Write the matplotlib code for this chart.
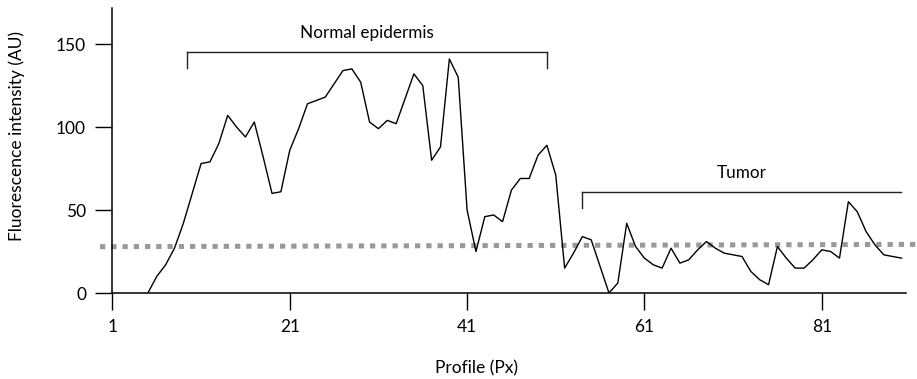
import numpy as np
import matplotlib
matplotlib.use("Agg")
import matplotlib.pyplot as plt

plt.rcParams['font.family'] = ['Lato', 'DejaVu Sans']

# profile position (px) and fluorescence intensity (AU)
profile_px = np.arange(5, 91)
intensity = [
    0, 10, 17, 27, 42, 60, 78, 79, 90, 107,      # 5-14
    100, 94, 103, 82, 60, 61, 86, 99, 114, 116,  # 15-24
    118, 126, 134, 135, 127, 103, 99, 104, 102, 117,  # 25-34
    132, 125, 80, 88, 141, 130, 50, 25, 46, 47,  # 35-44
    43, 62, 69, 69, 83, 89, 71, 15, 24, 34,      # 45-54
    32, 16, 0, 6, 42, 28, 21, 17, 15, 27,        # 55-64
    18, 20, 26, 31, 27, 24, 23, 22, 13, 8,       # 65-74
    5, 28, 21, 15, 15, 20, 26, 25, 21, 55,       # 75-84
    49, 37, 29, 23, 22, 21,                      # 85-90
]

# background threshold (dotted)
thresh_x = [-0.4, 91.9]
thresh_y = [27.9, 29.3]

xticks = [1, 21, 41, 61, 81]
yticks = [0, 50, 100, 150]

# region brackets: (label, x start, x end, y, left tick, right tick)
regions = [
    ("Normal epidermis", 9.4, 50.0, 145.2, True, True),
    ("Tumor", 54.0, 89.9, 60.8, True, False),
]

fig = plt.figure(figsize=(9.17, 3.79), dpi=100)
ax = fig.add_axes([0.1226, 0.2269, 0.9880 - 0.1226, 0.9789 - 0.2269])

ax.plot(thresh_x, thresh_y, color='#999999', lw=3.6, linestyle=(0, (1.05, 1.2)),
        solid_capstyle='butt', dash_capstyle='butt', clip_on=False, zorder=1)
ax.plot(profile_px, intensity, color='black', lw=1.0, zorder=2)

for label, x0, x1, y, lt, rt in regions:
    ax.plot([x0, x1], [y, y], color='#222222', lw=1.0, clip_on=False)
    if lt:
        ax.plot([x0, x0], [y, y - 9.7], color='#222222', lw=1.0, clip_on=False)
    if rt:
        ax.plot([x1, x1], [y, y - 9.7], color='#222222', lw=1.0, clip_on=False)
    ax.text((x0 + x1) / 2, y + 6.5, label, ha='center', va='bottom', fontsize=12.3)

ax.set_xlim(1, 90.5)
ax.set_ylim(0, 171.7)
ax.set_xticks(xticks)
ax.set_yticks(yticks)
ax.spines['top'].set_visible(False)
ax.spines['right'].set_visible(False)
for s in ['left', 'bottom']:
    ax.spines[s].set_linewidth(1.1)
ax.tick_params(direction='out', length=12, width=1.0, pad=7, labelsize=12.5)

ax.set_xlabel("Profile (Px)", fontsize=12.5, va='center')
ax.xaxis.set_label_coords(0.459, -0.263)
ax.set_ylabel("Fluorescence intensity (AU)", fontsize=12.5, va='center')
ax.yaxis.set_label_coords(-0.12, 0.55)

fig.savefig("out.png", dpi=100)
